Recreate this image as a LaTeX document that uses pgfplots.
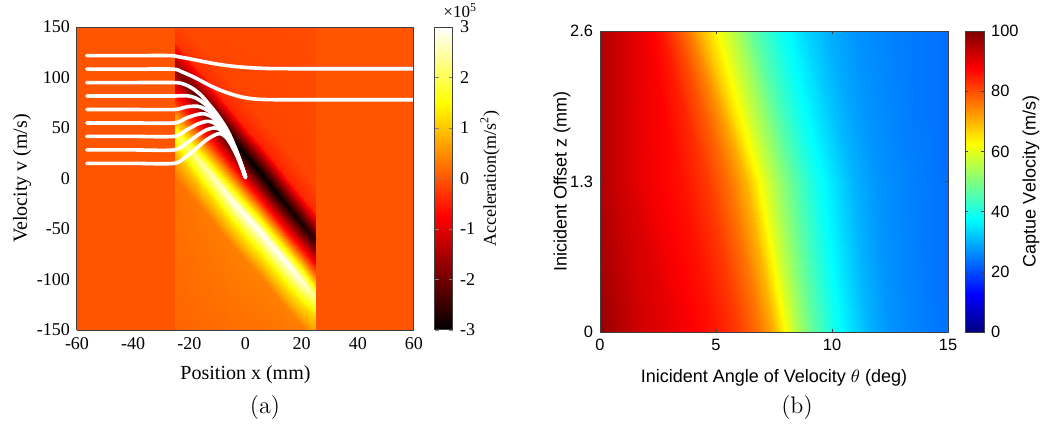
\documentclass[border=0pt]{standalone}
\usepackage{fontspec}
\usepackage{pgfplots}
\pgfplotsset{compat=1.18}
\newfontfamily\timesf{Liberation Serif}
\newfontfamily\arialf{Liberation Sans}
\begin{document}
\begin{tikzpicture}[x=1pt,y=1pt]
\useasboundingbox (0,0) rectangle (521.5,215);
% ---------------- (a) ----------------
\begin{axis}[
  at={(38.5pt,50pt)}, anchor=south west,
  scale only axis, width=168.5pt, height=151.5pt,
  view={0}{90},
  xmin=-60, xmax=60, ymin=-150, ymax=150, enlargelimits=false,
  xtick={-60,-40,-20,0,20,40,60}, ytick={-150,-100,-50,0,50,100,150}, ztick=\empty,
  major tick length=0pt, axis on top,
  axis line style={black!75, line width=0.5pt},
  /pgf/number format/assume math mode=true,
  tick label style={font=\timesf\fontsize{9}{10}\selectfont},
  xlabel={Position x (mm)}, ylabel={Velocity v (m/s)},
  every axis x label/.style={at={(axis description cs:0.5,-0.149)},anchor=center,font=\timesf\fontsize{10}{12}\selectfont},
  every axis y label/.style={at={(axis description cs:-0.163,0.5)},rotate=90,anchor=center,font=\timesf\fontsize{10}{12}\selectfont},
  colormap={mhot}{rgb255(0cm)=(0,0,0); rgb255(3cm)=(255,0,0); rgb255(6cm)=(255,255,0); rgb255(8cm)=(255,255,255)},
  point meta min=-3, point meta max=3,
  colorbar,
  colorbar shift/.style={xshift=10.5pt},
  colorbar style={
    at={(parent axis.north east)}, anchor=north west,
    width=9pt,
    ytick={-3,-2,-1,0,1,2,3},
    tick align=inside, major tick length=2pt,
    axis line style={black!75, line width=0.5pt},
    /pgf/number format/assume math mode=true,
    yticklabel style={font=\timesf\fontsize{9}{10}\selectfont},
    ylabel={Acceleration(m/s\textsuperscript{2})},
    every axis y label/.style={at={(axis description cs:3.06,0.5)},rotate=90,anchor=center,font=\timesf\fontsize{9}{11}\selectfont},
    extra description/.code={\node[anchor=south west,inner sep=0pt,font=\timesf\fontsize{8.5}{10}\selectfont] at ([yshift=4.5pt]axis description cs:0.45,1) {×10\textsuperscript{5}};},
  },
]
\addplot3[surf, shader=interp, mesh/cols=15] coordinates {
(-60,-200,0) (-25.01,-200,0) (-25,-200,0.12) (-20,-200,0.12) (-15,-200,0.12) (-10,-200,0.12) (-5,-200,0.12) (0,-200,0.12) (5,-200,0.12) (10,-200,0.12) (15,-200,0.12) (20,-200,0.12) (25,-200,0.12) (25.01,-200,0) (60,-200,0)

(-60,0,0) (-25.01,0,0) (-25,0,0.247) (-20,-16,0.286) (-15,-32,0.325) (-10,-48.5,0.351) (-5,-65,0.377) (0,-81,0.39) (5,-97,0.39) (10,-113.5,0.39) (15,-130,0.39) (20,-146,0.364) (25,-162,0.299) (25.01,-162,0) (60,-162,0)

(-60,23,0) (-25.01,23,0) (-25,23,0.855) (-20,7,0.99) (-15,-9,1.125) (-10,-25.5,1.215) (-5,-42,1.305) (0,-58,1.35) (5,-74,1.35) (10,-90.5,1.35) (15,-107,1.35) (20,-123,1.26) (25,-139,1.035) (25.01,-139,0) (60,-139,0)

(-60,35,0) (-25.01,35,0) (-25,35,1.425) (-20,19,1.65) (-15,3,1.875) (-10,-13.5,2.025) (-5,-30,2.175) (0,-46,2.25) (5,-62,2.25) (10,-78.5,2.25) (15,-95,2.25) (20,-111,2.1) (25,-127,1.725) (25.01,-127,0) (60,-127,0)

(-60,45,0) (-25.01,45,0) (-25,45,1.9) (-20,29,2.2) (-15,13,2.5) (-10,-3.5,2.7) (-5,-20,2.9) (0,-36,3) (5,-52,3) (10,-68.5,3) (15,-85,3) (20,-101,2.8) (25,-117,2.3) (25.01,-117,0) (60,-117,0)

(-60,55,0) (-25.01,55,0) (-25,55,1.045) (-20,39,1.21) (-15,23,1.375) (-10,6.5,1.485) (-5,-10,1.595) (0,-26,1.65) (5,-42,1.65) (10,-58.5,1.65) (15,-75,1.65) (20,-91,1.54) (25,-107,1.265) (25.01,-107,0) (60,-107,0)

(-60,76.5,0) (-25.01,76.5,0) (-25,76.5,-0.35) (-20,60,-0.35) (-15,43.5,-0.35) (-10,26.75,-0.35) (-5,10,-0.35) (0,-6.5,-0.35) (5,-23,-0.35) (10,-39.75,-0.35) (15,-56.5,-0.35) (20,-73,-0.35) (25,-89.5,-0.35) (25.01,-89.5,0) (60,-89.5,0)

(-60,96,0) (-25.01,96,0) (-25,96,-1.17) (-20,79,-1.365) (-15,62,-1.56) (-10,45,-1.755) (-5,28,-1.885) (0,11,-1.95) (5,-6,-1.95) (10,-23,-1.95) (15,-40,-1.885) (20,-57,-1.82) (25,-74,-1.69) (25.01,-74,0) (60,-74,0)

(-60,108,0) (-25.01,108,0) (-25,108,-1.8) (-20,91,-2.1) (-15,74,-2.4) (-10,57,-2.7) (-5,40,-2.9) (0,23,-3) (5,6,-3) (10,-11,-3) (15,-28,-2.9) (20,-45,-2.8) (25,-62,-2.6) (25.01,-62,0) (60,-62,0)

(-60,120,0) (-25.01,120,0) (-25,120,-1.17) (-20,103,-1.365) (-15,86,-1.56) (-10,69,-1.755) (-5,52,-1.885) (0,35,-1.95) (5,18,-1.95) (10,1,-1.95) (15,-16,-1.885) (20,-33,-1.82) (25,-50,-1.69) (25.01,-50,0) (60,-50,0)

(-60,136,0) (-25.01,136,0) (-25,136,-0.27) (-20,119,-0.315) (-15,102,-0.36) (-10,85,-0.405) (-5,68,-0.435) (0,51,-0.45) (5,34,-0.45) (10,17,-0.45) (15,0,-0.435) (20,-17,-0.42) (25,-34,-0.39) (25.01,-34,0) (60,-34,0)

(-60,163,0) (-25.01,163,0) (-25,163,-0.09) (-20,146,-0.105) (-15,129,-0.12) (-10,112,-0.135) (-5,95,-0.145) (0,78,-0.15) (5,61,-0.15) (10,44,-0.15) (15,27,-0.145) (20,10,-0.14) (25,-7,-0.13) (25.01,-7,0) (60,-7,0)

(-60,200,0) (-25.01,200,0) (-25,200,-0.08) (-20,200,-0.08) (-15,200,-0.08) (-10,200,-0.08) (-5,200,-0.08) (0,200,-0.08) (5,200,-0.08) (10,200,-0.08) (15,200,-0.08) (20,200,-0.08) (25,200,-0.08) (25.01,200,0) (60,200,0)
};
\pgfplotsset{traj/.style={white, line width=1.8pt, smooth, line cap=round, no markers}}
\addplot3[traj] coordinates {(-56.5,121.7,3) (-40,121.7,3) (-27,121.7,3) (-24,120.6,3) (-20,118.6,3) (-15,115.8,3) (-10,113.2,3) (-5,111.3,3) (0,110,3) (5,109.2,3) (10,108.8,3) (20,108.7,3) (40,108.7,3) (60,108.7,3)};
\addplot3[traj] coordinates {(-56.5,108.3,3) (-40,108.3,3) (-26,108.3,3) (-23,106,3) (-20,102.5,3) (-17,98.5,3) (-13,92.5,3) (-9,87.5,3) (-5,83.5,3) (-1,80.5,3) (3,78.8,3) (7,78.2,3) (12,78,3) (30,78,3) (60,78,3)};
\addplot3[traj] coordinates {(-56.5,95,3) (-40,95,3) (-25.5,95,3) (-22,93.5,3) (-19,89.5,3) (-16,83,3) (-13,73.5,3) (-10,63,3) (-7,50.5,3) (-5,39.5,3) (-3,26,3) (-1.5,14.5,3) (0,2,3)};
\addplot3[traj] coordinates {(-56.5,81.7,3) (-40,81.7,3) (-25.5,81.7,3) (-21,82,3) (-18,80,3) (-15,75,3) (-12,67.5,3) (-10,60.5,3) (-7,49,3) (-5,38,3) (-3,25,3) (-1.5,14,3) (0,1.5,3)};
\addplot3[traj] coordinates {(-56.5,68.3,3) (-40,68.3,3) (-25.5,68.3,3) (-21,71,3) (-17,71.5,3) (-14.5,69,3) (-12,64.5,3) (-10,58,3) (-7,47.5,3) (-5,37,3) (-3,24.5,3) (-1.5,13.5,3) (0,1.5,3)};
\addplot3[traj] coordinates {(-56.5,55,3) (-40,55,3) (-25.5,55,3) (-21,60,3) (-17,63.5,3) (-14.5,64,3) (-12,61,3) (-10,55.5,3) (-7,46,3) (-5,36,3) (-3,24,3) (-1.5,13,3) (0,1,3)};
\addplot3[traj] coordinates {(-56.5,41.7,3) (-40,41.7,3) (-25.5,41.7,3) (-21,48,3) (-17,54,3) (-14,56.5,3) (-12,56,3) (-10,52.5,3) (-7,44.5,3) (-5,35,3) (-3,23.5,3) (-1.5,13,3) (0,1,3)};
\addplot3[traj] coordinates {(-56.5,28.3,3) (-40,28.3,3) (-25.5,28.3,3) (-21,35,3) (-17,43,3) (-14,48,3) (-11.5,50,3) (-9.5,49,3) (-7,43,3) (-5,34,3) (-3,23,3) (-1.5,12.5,3) (0,1,3)};
\addplot3[traj] coordinates {(-56.5,15,3) (-40,15,3) (-25.5,15,3) (-21,22,3) (-17,31,3) (-14,38,3) (-11,43,3) (-9,44.5,3) (-7,41,3) (-5,33,3) (-3,22,3) (-1.5,12,3) (0,1,3)};
\end{axis}
% ---------------- (b) ----------------
\begin{axis}[
  at={(300pt,49pt)}, anchor=south west,
  scale only axis, width=174pt, height=150.5pt,
  view={0}{90},
  xmin=0, xmax=15, ymin=0, ymax=2.6, enlargelimits=false,
  xtick={0,5,10,15}, ytick={0,1.3,2.6}, ztick=\empty,
  tick align=inside, major tick length=1.7pt, axis on top,
  axis line style={black!75, line width=0.5pt},
  tick style={black!75},
  /pgf/number format/assume math mode=true,
  tick label style={font=\arialf\fontsize{8.2}{10}\selectfont},
  xlabel={Inicident Angle of Velocity $\theta$ (deg)}, ylabel={Inicident Offset z (mm)},
  every axis x label/.style={at={(axis description cs:0.5,-0.153)},anchor=center,font=\arialf\fontsize{9}{11}\selectfont},
  every axis y label/.style={at={(axis description cs:-0.109,0.5)},rotate=90,anchor=center,font=\arialf\fontsize{9}{11}\selectfont},
  colormap/jet,
  point meta min=0, point meta max=100,
  colorbar,
  colorbar style={
    at={(parent axis.north east)}, anchor=north west,
    width=9.5pt,
    ytick={0,20,40,60,80,100},
    tick align=inside, major tick length=1.7pt,
    axis line style={black!75, line width=0.5pt},
    /pgf/number format/assume math mode=true,
    yticklabel style={font=\arialf\fontsize{8.2}{10}\selectfont},
    ylabel={Captue Velocity (m/s)},
    every axis y label/.style={at={(axis description cs:3.47,0.5)},rotate=90,anchor=center,font=\arialf\fontsize{9}{11}\selectfont},
  },
]
\addplot3[surf, shader=interp, mesh/cols=17] coordinates {
(0.0,0,98) (0.8,0,95) (1.8,0,92) (3.4,0,89) (4.8,0,86) (5.9,0,82) (6.9,0,76) (7.5,0,70) (8.0,0,62) (8.5,0,55) (9.2,0,47) (10.0,0,40) (10.9,0,34) (11.6,0,30) (12.5,0,27) (13.8,0,25) (15.5,0,23)

(-1.0,1.3,98) (0.0,1.3,95) (1.0,1.3,92) (2.0,1.3,89) (3.5,1.3,86) (4.6,1.3,82) (5.6,1.3,76) (6.3,1.3,70) (6.9,1.3,62) (7.5,1.3,55) (8.3,1.3,47) (9.2,1.3,40) (10.2,1.3,34) (11.0,1.3,30) (12.0,1.3,27) (13.5,1.3,25) (15.5,1.3,23)

(-1.5,2.6,98) (0.0,2.6,95) (1.0,2.6,92) (1.9,2.6,89) (2.6,2.6,86) (3.1,2.6,82) (3.8,2.6,76) (4.3,2.6,70) (5.1,2.6,62) (5.8,2.6,55) (6.6,2.6,47) (7.6,2.6,40) (8.8,2.6,34) (9.8,2.6,30) (11.0,2.6,27) (12.8,2.6,25) (15.5,2.6,23)
};
\end{axis}
\node[font=\fontsize{12}{14}\selectfont] at (132.5,11) {(a)};
\node[font=\fontsize{12}{14}\selectfont] at (398.5,11) {(b)};
\end{tikzpicture}
\end{document}
